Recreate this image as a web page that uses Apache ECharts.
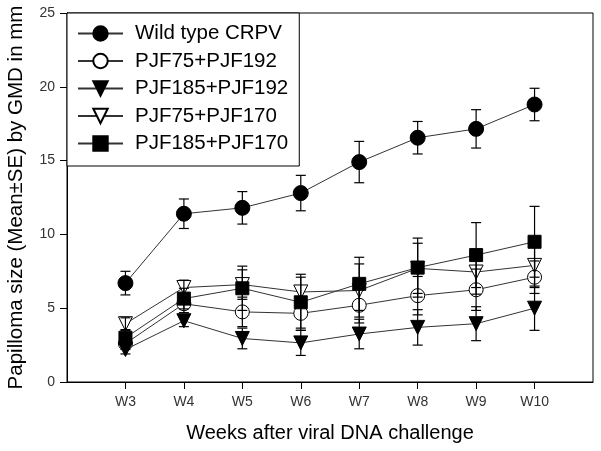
<!DOCTYPE html>
<html>
<head>
<meta charset="utf-8">
<script src="https://cdn.jsdelivr.net/npm/echarts@6/dist/echarts.min.js"></script>
<style>html,body{margin:0;padding:0;background:#fff}#c{width:601px;height:451px}</style>
</head>
<body>
<div id="c"></div>
<script>
const weeks = [3, 4, 5, 6, 7, 8, 9, 10];
const weekLabels = ['W3', 'W4', 'W5', 'W6', 'W7', 'W8', 'W9', 'W10'];
const seriesNames = ['Wild type CRPV', 'PJF75+PJF192', 'PJF185+PJF192', 'PJF75+PJF170', 'PJF185+PJF170'];
const wildMean   = [6.7, 11.4, 11.8, 12.8, 14.9, 16.55, 17.15, 18.8];
const wildSE     = [0.8, 1.0, 1.1, 1.2, 1.4, 1.1, 1.3, 1.1];
const p75_192Mean = [2.6, 5.3, 4.75, 4.65, 5.2, 5.85, 6.25, 7.1];
const p75_192SE   = [0.4, 0.6, 1.0, 1.0, 1.2, 1.3, 1.4, 1.1];
const p185_192Mean = [2.2, 4.15, 2.95, 2.65, 3.25, 3.7, 3.95, 5.0];
const p185_192SE   = [0.3, 0.4, 0.7, 0.85, 1.0, 1.2, 1.15, 1.5];
const p75_170Mean = [3.95, 6.4, 6.6, 6.1, 6.2, 7.7, 7.45, 7.9];
const p75_170SE   = [0.4, 0.5, 1.0, 1.0, 1.8, 1.7, 1.5, 1.5];
const p185_170Mean = [3.0, 5.65, 6.35, 5.4, 6.65, 7.75, 8.6, 9.5];
const p185_170SE   = [0.5, 0.7, 1.5, 1.9, 1.8, 2.0, 2.2, 2.4];
const yTicks = [0, 5, 10, 15, 20, 25];

const means = [wildMean, p75_192Mean, p185_192Mean, p75_170Mean, p185_170Mean];
const ses = [wildSE, p75_192SE, p185_192SE, p75_170SE, p185_170SE];
const symbols = ['circle', 'circle', 'triangle', 'triangle', 'rect'];
const rotates = [0, 0, 180, 180, 0];
const fills = ['#000', '#fff', '#000', '#fff', '#000'];
const sizes = [15, 14, 14, 14, 13];
const FONT = '"Liberation Sans", Arial, sans-serif';

const series = [];
means.forEach((m, i) => {
  series.push({
    name: seriesNames[i],
    type: 'line',
    data: weeks.map((w, k) => [w, m[k]]),
    symbol: symbols[i],
    symbolRotate: rotates[i],
    symbolSize: sizes[i],
    showAllSymbol: true,
    lineStyle: { color: '#333', width: 1 },
    itemStyle: { color: fills[i], borderColor: '#000', borderWidth: 1, opacity: 1 },
    emphasis: { disabled: true },
    z: 2,
    animation: false
  });
});
means.forEach((m, i) => {
  series.push({
    type: 'custom',
    name: seriesNames[i] + ' SE',
    data: weeks.map((w, k) => [w, m[k] - ses[i][k], m[k] + ses[i][k]]),
    renderItem: function (params, api) {
      const x = api.value(0);
      const lo = api.coord([x, api.value(1)]);
      const hi = api.coord([x, api.value(2)]);
      const hw = 5;
      const st = { stroke: '#000', lineWidth: 1.2 };
      return {
        type: 'group',
        children: [
          { type: 'line', shape: { x1: lo[0], y1: lo[1], x2: hi[0], y2: hi[1] }, style: st },
          { type: 'line', shape: { x1: lo[0] - hw, y1: lo[1], x2: lo[0] + hw, y2: lo[1] }, style: st },
          { type: 'line', shape: { x1: hi[0] - hw, y1: hi[1], x2: hi[0] + hw, y2: hi[1] }, style: st }
        ]
      };
    },
    z: 3,
    silent: true,
    animation: false
  });
});

const chart = echarts.init(document.getElementById('c'), null, { renderer: 'canvas' });
chart.setOption({
  backgroundColor: '#fff',
  animation: false,
  grid: { left: 67, top: 13, right: 8, bottom: 69, containLabel: false, outerBoundsMode: 'none', show: true, borderColor: '#000', borderWidth: 1, backgroundColor: 'transparent' },
  legend: {
    data: seriesNames,
    orient: 'vertical',
    left: 67,
    top: 13,
    padding: [10, 11, 12, 10],
    itemWidth: 45,
    itemHeight: 18,
    itemGap: 6.5,
    backgroundColor: '#fff',
    borderColor: '#000',
    borderWidth: 1,
    borderRadius: 0,
    textStyle: { fontFamily: FONT, fontSize: 20.5, color: '#000', lineHeight: 18, padding: [0, 0, 0, 7] },
    selectedMode: false,
    z: 10
  },
  xAxis: {
    type: 'value',
    min: 2, max: 11, interval: 1,
    axisLine: { show: true, lineStyle: { color: '#000', width: 1 } },
    axisTick: { show: true, inside: false, length: 7, customValues: weeks, lineStyle: { color: '#000' } },
    axisLabel: {
      customValues: weeks,
      formatter: function (v) { const k = weeks.indexOf(v); return k >= 0 ? weekLabels[k] : ''; },
      fontFamily: FONT, fontSize: 14, color: '#333', margin: 13
    },
    splitLine: { show: false },
    name: 'Weeks after viral DNA challenge',
    nameLocation: 'middle',
    nameGap: 41,
    nameTextStyle: { fontFamily: FONT, fontSize: 20, color: '#000' }
  },
  yAxis: {
    type: 'value',
    min: 0, max: 25, interval: 5,
    axisLine: { show: true, lineStyle: { color: '#000', width: 1 } },
    axisTick: { show: true, inside: false, length: 7, lineStyle: { color: '#000' } },
    axisLabel: {
      formatter: function (v) { return yTicks.indexOf(v) >= 0 ? String(v) : ''; },
      fontFamily: FONT, fontSize: 14, color: '#333', margin: 12
    },
    splitLine: { show: false },
    name: 'Papilloma size (Mean±SE) by GMD in mm',
    nameLocation: 'middle',
    nameGap: 40,
    nameTextStyle: { fontFamily: FONT, fontSize: 20.5, color: '#000' }
  },
  series: series
});
</script>
</body>
</html>
